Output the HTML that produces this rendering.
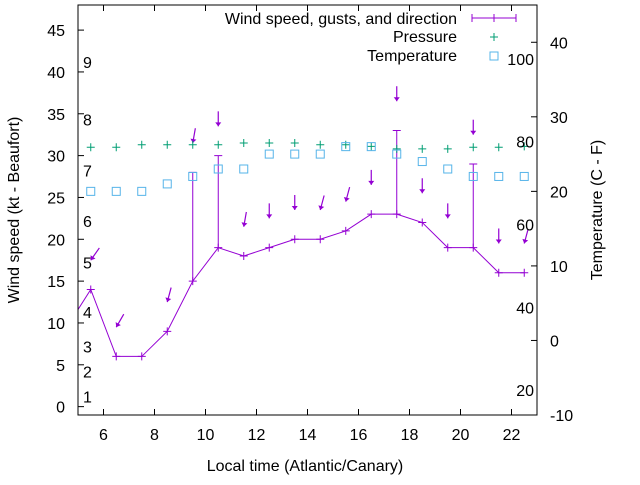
<!DOCTYPE html>
<html><head><meta charset="utf-8"><style>
body{margin:0;background:#fff}
svg{font-family:"Liberation Sans",sans-serif;font-size:16px}
</style></head><body>
<svg id="c" width="640" height="480" viewBox="0 0 640 480" xmlns="http://www.w3.org/2000/svg"></svg>
<script>
const hours=[4.5,5.5,6.5,7.5,8.5,9.5,10.5,11.5,12.5,13.5,14.5,15.5,16.5,17.5,18.5,19.5,20.5,21.5,22.5];
const wind=[9.2,14,6,6,9,15,19,18,19,20,20,21,23,23,22,19,19,16,16];
const gust=[9.2,14,6,6,9,28,30,18,19,20,20,21,23,33,22,19,29,16,16];
const dirDeg=[0,35,30,null,15,10,0,10,0,0,15,15,0,0,0,0,0,0,15];
const pressure=[null,31,31,31.3,31.3,31.3,31.3,31.5,31.5,31.5,31.3,31.3,31.1,30.8,30.8,30.8,31,31,31.1];
const tempC=[null,20,20,20,21,22,23,23,25,25,25,26,26,25,24,23,22,22,22];
const xTicks=[6,8,10,12,14,16,18,20,22];
const yTicks=[0,5,10,15,20,25,30,35,40,45];
const y2Ticks=[-10,0,10,20,30,40];
const beaufort=[[1,1.2],[2,4.2],[3,7.2],[4,11.3],[5,17.2],[6,22.2],[7,28.2],[8,34.3],[9,41.2]];
const fahr=[20,40,60,80,100];

const L=78,R=537,T=5,B=415;
const X=v=>L+(v-5)/18*(R-L);
const Y=v=>T+(48-v)/49*(B-T);
const Y2=v=>T+(45-v)/55*(B-T);
const svg=document.getElementById('c');
const NS='http://www.w3.org/2000/svg';
function mk(tag,a,parent){const e=document.createElementNS(NS,tag);for(const k in a)e.setAttribute(k,a[k]);(parent||svg).appendChild(e);return e;}
const purple='#9400d3',green='#009e73',blue='#56b4e9';

const defs=mk('defs',{});const cp=mk('clipPath',{id:'pc'},defs);mk('rect',{x:L,y:T,width:R-L,height:B-T},cp);
const plot=mk('g',{'clip-path':'url(#pc)'});



const fr=mk('rect',{x:L,y:T,width:R-L,height:B-T,fill:'none',stroke:'#000','stroke-width':1});



xTicks.forEach(v=>{
  mk('line',{x1:X(v),x2:X(v),y1:B,y2:B-6,stroke:'#000'});
  mk('line',{x1:X(v),x2:X(v),y1:T,y2:T+6,stroke:'#000'});
  const t=mk('text',{x:X(v),y:B+25,'text-anchor':'middle'});t.textContent=v;
  
  
});
yTicks.forEach(v=>{
  mk('line',{x1:L,x2:L+6,y1:Y(v),y2:Y(v),stroke:'#000'});
  const t=mk('text',{x:65,y:Y(v)+6,'text-anchor':'end'});t.textContent=v;
  
  
});
y2Ticks.forEach(v=>{
  mk('line',{x1:R,x2:R-6,y1:Y2(v),y2:Y2(v),stroke:'#000'});
  const t=mk('text',{x:550,y:Y2(v)+6,'text-anchor':'start'});t.textContent=v;
  
  
});
beaufort.forEach(b=>{
  const t=mk('text',{x:83,y:Y(b[1])+6});t.textContent=b[0];
  
  
});
fahr.forEach(f=>{
  const t=mk('text',{x:534,y:Y2((f-32)/1.8)+6,'text-anchor':'end'});t.textContent=f;
  
  
});

const wl=mk('polyline',{points:hours.map((h,i)=>X(h)+','+Y(wind[i])).join(' '),fill:'none',stroke:purple,'stroke-width':1},plot);


hours.forEach((h,i)=>{
  const x=X(h),y=Y(wind[i]);
  mk('path',{d:`M${x-4},${y}H${x+4}M${x},${y-4}V${y+4}`,stroke:purple},plot);
  if(gust[i]>wind[i]){
    const g=mk('path',{d:`M${x},${y}V${Y(gust[i])}M${x-4},${Y(gust[i])}H${x+4}`,stroke:purple,fill:'none'},plot);
    
    
  }
  if(dirDeg[i]!==null){
    const tipY=Y(gust[i]+3.5),len=15,a=dirDeg[i]*Math.PI/180;
    const tx=x+len*Math.sin(a),ty=tipY-len*Math.cos(a);
    const ux=(x-tx)/len,uy=(tipY-ty)/len;
    const bx=x-ux*4,by=tipY-uy*4;
    const ar=mk('g',{},plot);
    
    
    mk('line',{x1:tx,y1:ty,x2:x,y2:tipY,stroke:purple,'stroke-width':1.2},ar);
    mk('path',{d:`M${x},${tipY}L${bx-uy*3},${by+ux*3}L${bx+uy*3},${by-ux*3}Z`,fill:purple,stroke:'none'},ar);
  }
  if(pressure[i]!==null){
    const px=X(h),py=Y(pressure[i]);
    const p=mk('path',{d:`M${px-4},${py}H${px+4}M${px},${py-4}V${py+4}`,stroke:green},plot);
    
    
  }
  if(tempC[i]!==null){
    const r=mk('rect',{x:X(h)-4,y:Y2(tempC[i])-4,width:8,height:8,fill:'none',stroke:blue},plot);
    
    
  }
});

const leg=[['Wind speed, gusts, and direction',18],['Pressure',36],['Temperature',55]];
leg.forEach((l,i)=>{
  const t=mk('text',{x:457,y:l[1]+6,'text-anchor':'end'});t.textContent=l[0];
  
  
});
mk('path',{d:'M472,18H516M472,14V22M516,14V22M494,14V22',stroke:purple});
mk('path',{d:'M490,37H498M494,33V41',stroke:green});
mk('rect',{x:490,y:52,width:8,height:8,fill:'none',stroke:blue});

let t=mk('text',{x:305,y:471,'text-anchor':'middle'});t.textContent='Local time (Atlantic/Canary)';

t=mk('text',{x:0,y:0,'text-anchor':'middle',transform:'translate(19,210) rotate(-90)'});t.textContent='Wind speed (kt - Beaufort)';

t=mk('text',{x:0,y:0,'text-anchor':'middle',transform:'translate(602,210) rotate(-90)'});t.textContent='Temperature (C - F)';

</script>
</body></html>
